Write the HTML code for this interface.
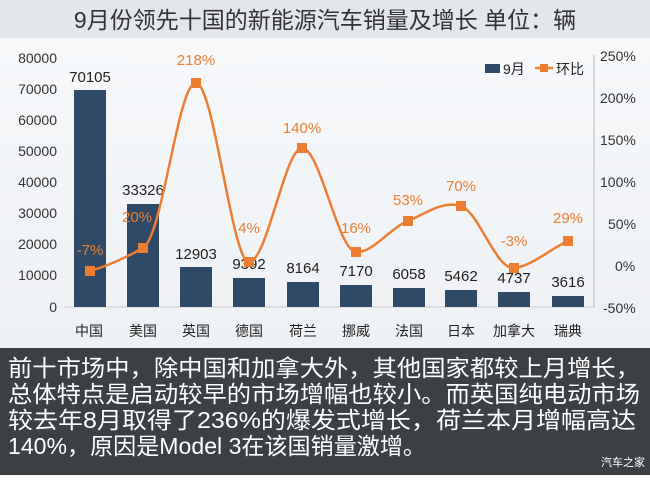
<!DOCTYPE html>
<html><head><meta charset="utf-8"><style>
body{margin:0;width:650px;height:475px;overflow:hidden;font-family:"Liberation Sans","Noto Sans CJK SC",sans-serif;}
</style></head><body>
<svg width="650" height="475" xmlns="http://www.w3.org/2000/svg" font-family="Liberation Sans, Noto Sans CJK SC, sans-serif">
<defs><linearGradient id="bg" x1="0" y1="0" x2="0" y2="1"><stop offset="0" stop-color="#f7f9fb"/><stop offset="1" stop-color="#eef1f4"/></linearGradient></defs>
<rect x="0" y="0" width="650" height="348" fill="url(#bg)"/>
<rect x="0" y="0" width="650" height="38" fill="#e3e7eb"/>
<text x="325" y="28" font-size="23" fill="#333" text-anchor="middle">9月份领先十国的新能源汽车销量及增长  单位：辆</text>
<g font-size="14" fill="#333" text-anchor="end">
<text x="57" y="63">80000</text><text x="57" y="94">70000</text><text x="57" y="125">60000</text><text x="57" y="156">50000</text><text x="57" y="187">40000</text><text x="57" y="218">30000</text><text x="57" y="249">20000</text><text x="57" y="280">10000</text><text x="57" y="312">0</text>
</g>
<g font-size="14" fill="#333">
<text x="600" y="61">250%</text><text x="600" y="103">200%</text><text x="600" y="145">150%</text><text x="600" y="187">100%</text><text x="608" y="229">50%</text><text x="615" y="271">0%</text><text x="603" y="313">-50%</text>
</g>
<line x1="594" y1="55" x2="594" y2="307" stroke="#bbb"/>
<line x1="64" y1="307" x2="594" y2="307" stroke="#ccc"/>
<g fill="#2f4a66">
<rect x="74" y="90" width="32" height="217"/>
<rect x="127" y="204" width="32" height="103"/>
<rect x="180" y="267" width="32" height="40"/>
<rect x="233" y="278" width="32" height="29"/>
<rect x="287" y="282" width="32" height="25"/>
<rect x="340" y="285" width="32" height="22"/>
<rect x="393" y="288" width="32" height="19"/>
<rect x="445" y="290" width="32" height="17"/>
<rect x="498" y="292" width="32" height="15"/>
<rect x="552" y="296" width="32" height="11"/>
</g>
<g font-size="15" fill="#222" text-anchor="middle">
<text x="90" y="82">70105</text><text x="143" y="195">33326</text><text x="196" y="259">12903</text><text x="249" y="269">9392</text><text x="303" y="273">8164</text><text x="356" y="276">7170</text><text x="409" y="279">6058</text><text x="461" y="281">5462</text><text x="514" y="283">4737</text><text x="568" y="287">3616</text>
</g>
<path d="M90,271 C108,266 125,258 143,248 C163,236 178,82 196,83 C214,84 232,262 249,262 C267,262 285,148 302,148 C320,148 338,251 356,252 C373,253 390,228 408,221 C425,214 443,200 461,206 C479,212 496,270 514,268 C532,266 550,249 568,241" fill="none" stroke="#ed7d31" stroke-width="2.5"/>
<g fill="#ed7d31">
<rect x="85" y="266" width="10" height="10"/><rect x="138" y="243" width="10" height="10"/><rect x="191" y="78" width="10" height="10"/><rect x="244" y="257" width="10" height="10"/><rect x="297" y="143" width="10" height="10"/><rect x="351" y="247" width="10" height="10"/><rect x="403" y="216" width="10" height="10"/><rect x="456" y="201" width="10" height="10"/><rect x="509" y="263" width="10" height="10"/><rect x="563" y="236" width="10" height="10"/>
</g>
<g font-size="15" fill="#ed7d31" text-anchor="middle">
<text x="90" y="255">-7%</text><text x="137" y="222">20%</text><text x="196" y="65">218%</text><text x="249" y="233">4%</text><text x="302" y="133">140%</text><text x="356" y="233">16%</text><text x="408" y="205">53%</text><text x="461" y="191">70%</text><text x="514" y="246">-3%</text><text x="568" y="223">29%</text>
</g>
<g font-size="14" fill="#222" text-anchor="middle">
<text x="89" y="336">中国</text><text x="143" y="336">美国</text><text x="196" y="336">英国</text><text x="249" y="336">德国</text><text x="303" y="336">荷兰</text><text x="356" y="336">挪威</text><text x="409" y="336">法国</text><text x="461" y="336">日本</text><text x="514" y="336">加拿大</text><text x="568" y="336">瑞典</text>
</g>
<rect x="485" y="64" width="15" height="9" fill="#2f4a66"/>
<text x="503" y="74" font-size="14" fill="#222">9月</text>
<line x1="535" y1="68" x2="553" y2="68" stroke="#ed7d31" stroke-width="2.5"/>
<rect x="540" y="64" width="8" height="8" fill="#ed7d31"/>
<text x="556" y="74" font-size="14" fill="#222">环比</text>
<rect x="0" y="348" width="650" height="127" fill="#3b4045"/>
<g font-size="23" fill="#fff">
<text x="8" y="376" textLength="632" lengthAdjust="spacingAndGlyphs">前十市场中，除中国和加拿大外，其他国家都较上月增长，</text>
<text x="8" y="402" textLength="632" lengthAdjust="spacingAndGlyphs">总体特点是启动较早的市场增幅也较小。而英国纯电动市场</text>
<text x="8" y="428" textLength="628" lengthAdjust="spacingAndGlyphs">较去年8月取得了236%的爆发式增长，荷兰本月增幅高达</text>
<text x="8" y="454" textLength="418" lengthAdjust="spacingAndGlyphs">140%，原因是Model 3在该国销量激增。</text>
</g>
<text x="645" y="466" font-size="11" fill="#fff" text-anchor="end">汽车之家</text>
</svg>
</body></html>
